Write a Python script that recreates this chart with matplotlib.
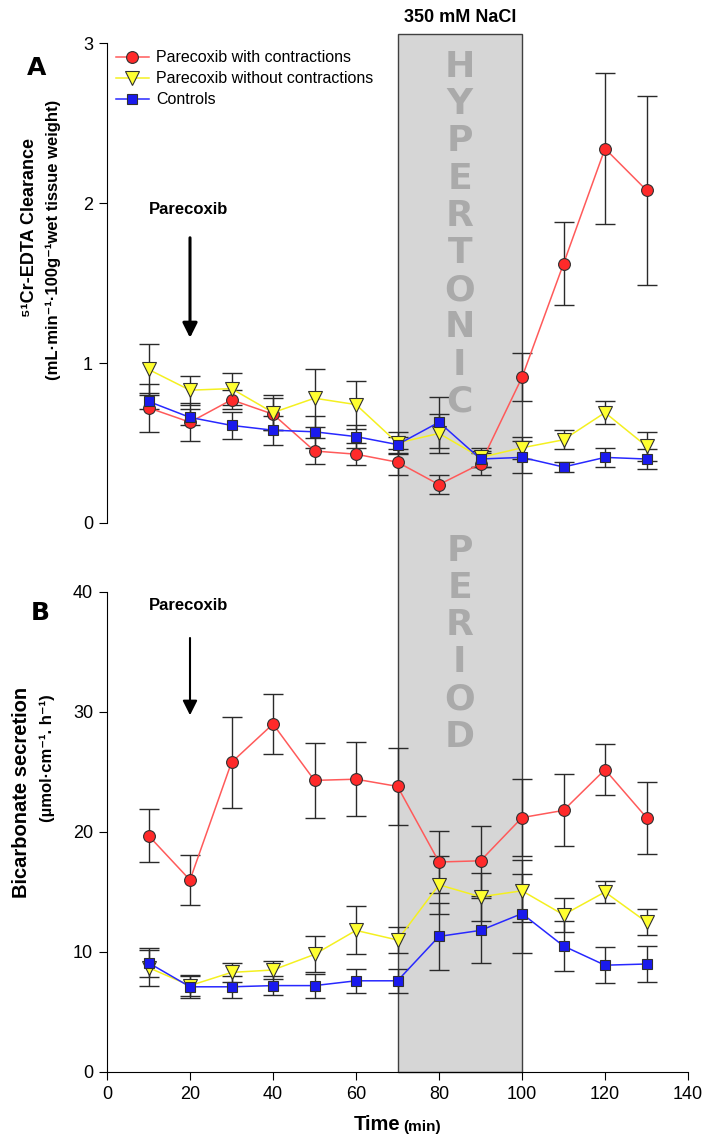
import matplotlib
matplotlib.use("Agg")
import matplotlib.pyplot as plt
from matplotlib.patches import Rectangle
from matplotlib.transforms import blended_transform_factory

plt.rcParams['font.family'] = ['Liberation Sans', 'DejaVu Sans']

time_min = [10, 20, 30, 40, 50, 60, 70, 80, 90, 100, 110, 120, 130]
series_names = ["Parecoxib with contractions", "Parecoxib without contractions", "Controls"]

# panel A: 51Cr-EDTA clearance
clear_contr = [0.72, 0.63, 0.77, 0.68, 0.45, 0.43, 0.38, 0.24, 0.37, 0.91, 1.62, 2.34, 2.08]
clear_contr_se = [0.15, 0.12, 0.06, 0.10, 0.08, 0.07, 0.08, 0.06, 0.07, 0.15, 0.26, 0.47, 0.59]
clear_nocontr = [0.96, 0.83, 0.84, 0.69, 0.78, 0.74, 0.50, 0.56, 0.41, 0.47, 0.52, 0.69, 0.48]
clear_nocontr_se = [0.16, 0.09, 0.10, 0.11, 0.18, 0.15, 0.07, 0.12, 0.06, 0.07, 0.06, 0.07, 0.09]
clear_ctrl = [0.76, 0.66, 0.61, 0.58, 0.57, 0.54, 0.49, 0.63, 0.40, 0.41, 0.35, 0.41, 0.40]
clear_ctrl_se = [0.05, 0.05, 0.085, 0.09, 0.10, 0.07, 0.05, 0.16, 0.05, 0.10, 0.03, 0.06, 0.06]

# panel B: bicarbonate secretion
bicarb_contr = [19.7, 16.0, 25.8, 29.0, 24.3, 24.4, 23.8, 17.5, 17.6, 21.2, 21.8, 25.2, 21.2]
bicarb_contr_se = [2.2, 2.1, 3.8, 2.5, 3.1, 3.1, 3.2, 2.6, 2.9, 3.2, 3.0, 2.1, 3.0]
bicarb_nocontr = [8.7, 7.2, 8.3, 8.5, 9.8, 11.8, 11.0, 15.6, 14.6, 15.1, 13.1, 15.0, 12.5]
bicarb_nocontr_se = [1.5, 0.9, 0.8, 0.75, 1.5, 2.0, 1.1, 2.4, 2.0, 2.6, 1.4, 0.95, 1.05]
bicarb_ctrl = [9.1, 7.1, 7.1, 7.2, 7.2, 7.6, 7.6, 11.3, 11.8, 13.2, 10.5, 8.9, 9.0]
bicarb_ctrl_se = [1.2, 0.9, 0.9, 0.8, 1.0, 1.0, 1.0, 2.8, 2.7, 3.3, 2.1, 1.5, 1.5]

nacl_start, nacl_end = 70, 100
parecoxib_time = 20

styles = [
    dict(color='#ff5a5a', marker='o', mfc='#ff2a2a', ms=8.5),
    dict(color='#f4f020', marker='v', mfc='#ffff30', ms=9.5),
    dict(color='#2828ff', marker='s', mfc='#1a1aee', ms=6.5),
]

fig = plt.figure(figsize=(7.06, 11.37), dpi=100)
ax1 = fig.add_axes([107/706, 1-523/1137, 581/706, 480/1137])
ax2 = fig.add_axes([107/706, 1-1072/1137, 581/706, 480/1137])

for ax, vals, errs in [(ax1, [clear_contr, clear_nocontr, clear_ctrl], [clear_contr_se, clear_nocontr_se, clear_ctrl_se]),
                       (ax2, [bicarb_contr, bicarb_nocontr, bicarb_ctrl], [bicarb_contr_se, bicarb_nocontr_se, bicarb_ctrl_se])]:
    ax.set_facecolor('none')
    for name, v, e, st in zip(series_names, vals, errs, styles):
        ax.errorbar(time_min, v, yerr=e, fmt='none', ecolor='#2a2a2a', elinewidth=1,
                    capsize=7, capthick=1, zorder=2)
        ax.plot(time_min, v, color=st['color'], lw=1.1, marker=st['marker'],
                mfc=st['mfc'], mec='#303030', mew=0.8, ms=st['ms'], label=name, zorder=3)
    ax.set_xlim(0, 140)
    ax.spines['top'].set_visible(False)
    ax.spines['right'].set_visible(False)
    ax.tick_params(labelsize=13, length=6, width=0.8, pad=4)

ax1.set_ylim(0, 3)
ax1.set_yticks([0, 1, 2, 3])
ax1.spines['bottom'].set_visible(False)
ax1.set_xticks([])
ax2.set_ylim(0, 40)
ax2.set_yticks([0, 10, 20, 30, 40])
ax2.set_xticks(range(0, 141, 20))

ax1.legend(loc='upper left', bbox_to_anchor=(0.015, 0.985), frameon=False, fontsize=11.5,
           handlelength=2.1, handletextpad=0.45, labelspacing=0.38, borderpad=0, borderaxespad=0)

# shaded hypertonic period spanning both panels
tr = blended_transform_factory(ax2.transData, fig.transFigure)
y0 = ax2.get_position().y0
y1 = 1 - 34/1137
fig.add_artist(Rectangle((nacl_start, y0), nacl_end - nacl_start, y1 - y0, transform=tr,
                         facecolor='#d6d6d6', edgecolor='#404040', lw=1, zorder=-1))
mid = (nacl_start + nacl_end) / 2
fig.text(mid, 1 - 17/1137, "350 mM NaCl", transform=tr, ha='center', va='center',
         fontsize=13, fontweight='bold')
letters = list("HYPERTONIC") + ["", "", ""] + list("PERIOD")
for i, ch in enumerate(letters):
    fig.text(mid, 1 - (67 + i*37.2)/1137, ch, transform=tr, ha='center', va='center',
             fontsize=26, fontweight='bold', color='#aaaaaa', family='DejaVu Sans')

# parecoxib arrows
ax1.text(10, 1.96, "Parecoxib", fontsize=12, fontweight='bold', ha='left', va='center')
ax1.annotate("", xy=(parecoxib_time, 1.14), xytext=(parecoxib_time, 1.80),
             arrowprops=dict(arrowstyle='-|>', color='k', lw=2.2, mutation_scale=22))
ax2.text(10, 38.9, "Parecoxib", fontsize=12, fontweight='bold', ha='left', va='center')
ax2.annotate("", xy=(parecoxib_time, 29.5), xytext=(parecoxib_time, 36.4),
             arrowprops=dict(arrowstyle='-|>', color='k', lw=1.5, mutation_scale=22))

# axis titles
fig.text(30/706, 1 - 228/1137, "\u2075\u00b9Cr-EDTA Clearance", rotation=90, ha='center', va='center',
         fontsize=13, fontweight='bold')
fig.text(53/706, 1 - 240/1137, "(mL\u00b7min\u207b\u00b9\u00b7100g\u207b\u00b9wet tissue weight)", rotation=90,
         ha='center', va='center', fontsize=12, fontweight='bold')
fig.text(22/706, 1 - 792/1137, "Bicarbonate secretion", rotation=90, ha='center', va='center',
         fontsize=14.5, fontweight='bold')
fig.text(47/706, 1 - 758/1137, "(\u00b5mol\u00b7cm\u207b\u00b9. h\u207b\u00b9)", rotation=90,
         ha='center', va='center', fontsize=12, fontweight='bold')
fig.text(400/706, 1 - 1125/1137, "Time", ha='right', va='center', fontsize=14.5, fontweight='bold')
fig.text(403/706, 1 - 1127/1137, "(min)", ha='left', va='center', fontsize=11, fontweight='bold')

fig.text(37/706, 1 - 68/1137, "A", ha='center', va='center', fontsize=18, fontweight='bold',
         family='DejaVu Sans')
fig.text(40/706, 1 - 613/1137, "B", ha='center', va='center', fontsize=18, fontweight='bold',
         family='DejaVu Sans')

fig.savefig("out.png", dpi=100)
